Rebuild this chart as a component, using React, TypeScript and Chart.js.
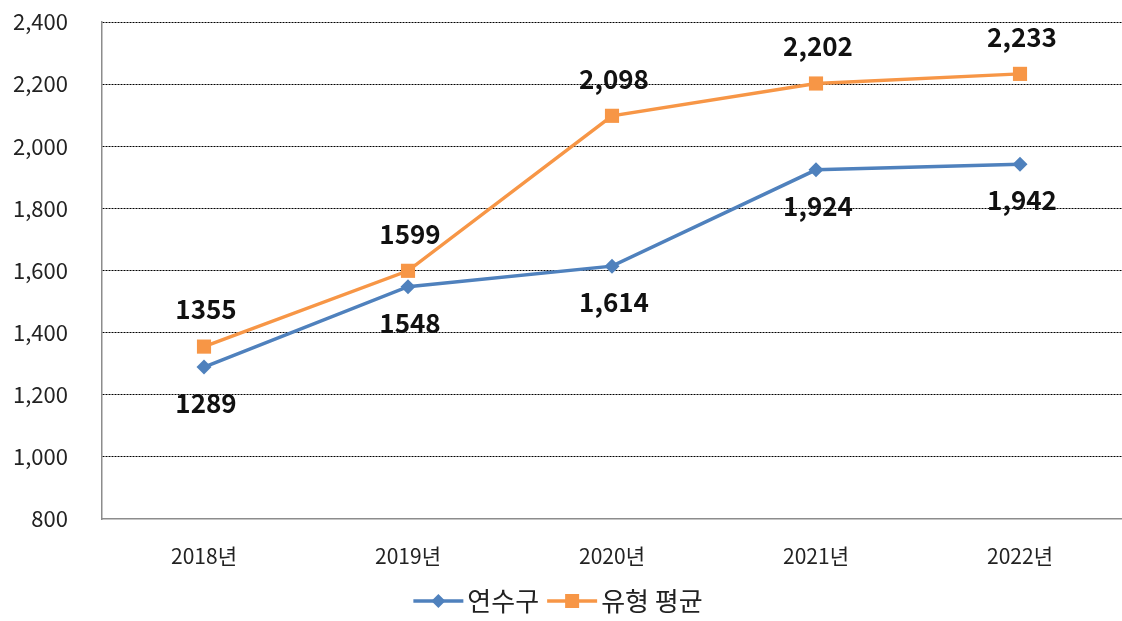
import React, { useEffect, useRef } from "react";
import { Chart, registerables } from "chart.js";

Chart.register(...registerables);

const categories = ["2018년", "2019년", "2020년", "2021년", "2022년"];
const yeonsuValues = [1289, 1548, 1614, 1924, 1942];
const averageValues = [1355, 1599, 2098, 2202, 2233];
const yeonsuLabels = ["1289", "1548", "1,614", "1,924", "1,942"];
const averageLabels = ["1355", "1599", "2,098", "2,202", "2,233"];
const seriesNames = ["연수구", "유형 평균"];
const yMin = 800;
const yMax = 2400;
const yStep = 200;

const BLUE = "#4F81BD";
const ORANGE = "#F79646";
const FONT = "'Noto Sans CJK KR', 'Noto Sans', sans-serif";

const dataLabelPlugin = {
  id: "dataLabels",
  afterDatasetsDraw(chart: any) {
    const ctx = chart.ctx;
    ctx.save();
    ctx.font = `bold 26px ${FONT}`;
    ctx.fillStyle = "#111";
    ctx.textAlign = "center";
    ctx.textBaseline = "middle";
    const sets = [
      { idx: 0, labels: yeonsuLabels, dy: 36 },
      { idx: 1, labels: averageLabels, dy: -37 },
    ];
    sets.forEach((s) => {
      const meta = chart.getDatasetMeta(s.idx);
      meta.data.forEach((pt: any, i: number) => {
        ctx.fillText(s.labels[i], pt.x + 2, pt.y + s.dy);
      });
    });
    ctx.restore();
  },
};

const legendPlugin = {
  id: "customLegend",
  afterDraw(chart: any) {
    const ctx = chart.ctx;
    ctx.save();
    ctx.font = `26px ${FONT}`;
    ctx.textBaseline = "middle";
    ctx.textAlign = "left";
    const y = 601;
    const lineW = 50;
    const gapAfterLine = 4;
    const gapBetween = 8;
    const items = [
      { name: seriesNames[0], color: BLUE, style: "diamond" },
      { name: seriesNames[1], color: ORANGE, style: "square" },
    ];
    const widths = items.map((it) => lineW + gapAfterLine + ctx.measureText(it.name).width);
    const total = widths.reduce((a, b) => a + b, 0) + gapBetween * (items.length - 1);
    let x = 558 - total / 2;
    items.forEach((it, i) => {
      ctx.strokeStyle = it.color;
      ctx.lineWidth = 3.5;
      ctx.beginPath();
      ctx.moveTo(x, y);
      ctx.lineTo(x + lineW, y);
      ctx.stroke();
      ctx.fillStyle = it.color;
      const cx = x + lineW / 2;
      ctx.beginPath();
      if (it.style === "diamond") {
        const r = 7;
        ctx.moveTo(cx, y - r);
        ctx.lineTo(cx + r, y);
        ctx.lineTo(cx, y + r);
        ctx.lineTo(cx - r, y);
        ctx.closePath();
      } else {
        ctx.rect(cx - 7, y - 7, 14, 14);
      }
      ctx.fill();
      ctx.fillStyle = "#222";
      ctx.fillText(it.name, x + lineW + gapAfterLine, y);
      x += widths[i] + gapBetween;
    });
    ctx.restore();
  },
};

export default function App() {
  const canvasRef = useRef<HTMLCanvasElement | null>(null);

  useEffect(() => {
    if (!canvasRef.current) return;
    const chart = new Chart(canvasRef.current, {
      type: "line",
      data: {
        labels: categories,
        datasets: [
          {
            label: seriesNames[0],
            data: yeonsuValues,
            borderColor: BLUE,
            backgroundColor: BLUE,
            borderWidth: 3.5,
            pointStyle: "rectRot",
            pointRadius: 7.5,
            pointHoverRadius: 7.5,
            pointBorderWidth: 0,
            tension: 0,
          },
          {
            label: seriesNames[1],
            data: averageValues,
            borderColor: ORANGE,
            backgroundColor: ORANGE,
            borderWidth: 3.5,
            pointStyle: "rect",
            pointRadius: 10,
            pointHoverRadius: 10,
            pointBorderWidth: 0,
            tension: 0,
          },
        ],
      },
      options: {
        responsive: false,
        animation: false,
        layout: { autoPadding: false, padding: { top: 22, left: 0, right: 0, bottom: 52 } },
        plugins: {
          legend: { display: false },
          tooltip: { enabled: false },
          title: { display: false },
        },
        scales: {
          x: {
            offset: true,
            grid: { display: false, drawTicks: false },
            border: { display: true, color: "#8c8c8c", width: 1.5 },
            ticks: {
              color: "#222",
              font: { family: FONT, size: 21 },
              padding: 24,
              maxRotation: 0,
            },
            afterFit(scale: any) {
              scale.height = 50;
              scale.paddingLeft = 0;
              scale.paddingRight = 0;
            },
          },
          y: {
            min: yMin,
            max: yMax,
            grid: {
              drawTicks: false,
              color: (c: any) => (c.tick && c.tick.value === yMin ? "rgba(0,0,0,0)" : "#000"),
              lineWidth: 1,
            },
            border: { display: true, color: "#8c8c8c", width: 1.5, dash: [2, 1] },
            ticks: {
              stepSize: yStep,
              color: "#222",
              font: { family: FONT, size: 22 },
              padding: 34,
              callback: (v: any) => Number(v).toLocaleString("en-US"),
            },
            afterFit(scale: any) {
              scale.width = 102;
              scale.paddingTop = 0;
              scale.paddingBottom = 0;
            },
          },
        },
      },
      plugins: [dataLabelPlugin, legendPlugin],
    });
    return () => chart.destroy();
  }, []);

  return (
    <div style={{ position: "absolute", left: 0, top: 0, width: 1122, height: 621, background: "#fff" }}>
      <canvas ref={canvasRef} width={1122} height={621} />
    </div>
  );
}
